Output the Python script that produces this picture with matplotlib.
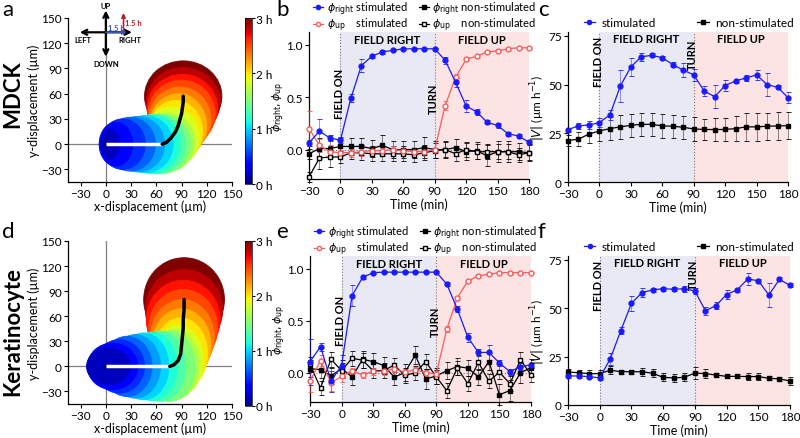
import numpy as np
import matplotlib
matplotlib.use("Agg")
import matplotlib.pyplot as plt
from matplotlib.patches import Ellipse
from matplotlib import cm
from matplotlib.colors import Normalize
from matplotlib.lines import Line2D

plt.rcParams["font.family"] = ["Lato", "DejaVu Sans"]
plt.rcParams["mathtext.fontset"] = "dejavusans"

# ---------------- data ----------------
time = [-30, -20, -10, 0, 10, 20, 30, 40, 50, 60, 70, 80, 90, 100, 110, 120, 130, 140, 150, 160, 170, 180]

# MDCK directedness (panel b)
b_right_stim = [0.065, 0.175, 0.11, 0.09, 0.49, 0.80, 0.89, 0.93, 0.945, 0.96, 0.96, 0.96, 0.96, 0.85, 0.64, 0.415, 0.36, 0.26, 0.23, 0.15, 0.13, 0.07]
b_right_stim_err = [0.03, 0.12, 0.03, 0.03, 0.04, 0.06, 0.02, 0.02, 0.01, 0.01, 0.01, 0.01, 0.01, 0.03, 0.04, 0.06, 0.03, 0.02, 0.02, 0.02, 0.02, 0.02]
b_up_stim = [0.20, 0.04, -0.02, -0.03, -0.03, -0.02, -0.01, -0.01, 0.0, -0.01, -0.02, -0.02, 0.0, 0.42, 0.69, 0.86, 0.89, 0.93, 0.94, 0.96, 0.97, 0.97]
b_up_stim_err = [0.17, 0.06, 0.06, 0.03, 0.04, 0.04, 0.03, 0.03, 0.03, 0.03, 0.03, 0.03, 0.02, 0.04, 0.03, 0.02, 0.02, 0.01, 0.01, 0.01, 0.01, 0.01]
b_right_non = [-0.04, 0.01, 0.01, 0.03, 0.03, 0.03, 0.01, 0.04, 0.0, 0.0, 0.0, 0.02, 0.0, 0.0, 0.02, -0.02, -0.01, -0.06, -0.02, -0.02, -0.02, -0.03]
b_right_non_err = [0.05, 0.10, 0.08, 0.08, 0.08, 0.08, 0.08, 0.10, 0.08, 0.08, 0.08, 0.10, 0.08, 0.08, 0.08, 0.08, 0.08, 0.10, 0.10, 0.10, 0.08, 0.08]
b_up_non = [-0.26, -0.08, -0.07, -0.07, -0.03, -0.03, -0.04, -0.04, -0.04, -0.04, -0.05, -0.03, -0.01, 0.0, -0.04, 0.0, -0.02, -0.02, -0.02, -0.02, -0.05, -0.03]
b_up_non_err = [0.05, 0.10, 0.10, 0.06, 0.06, 0.07, 0.07, 0.07, 0.07, 0.07, 0.07, 0.07, 0.07, 0.07, 0.07, 0.07, 0.07, 0.07, 0.07, 0.07, 0.07, 0.07]

# MDCK speed (panel c)
c_stim = [26.9, 28.8, 29.3, 30.5, 34.5, 49.3, 59.1, 64.3, 65.0, 63.8, 60.3, 57.4, 55.0, 46.7, 43.8, 49.5, 51.9, 53.4, 55.0, 50.0, 48.6, 43.3]
c_stim_err = [1, 1.5, 2, 2.5, 2.5, 8, 4.5, 2, 1, 1, 1.5, 3.5, 3, 2.5, 6, 3, 1, 1.5, 2.5, 6, 1, 3]
c_non = [21.3, 22.0, 24.6, 26.2, 27.4, 28.3, 29.1, 29.6, 29.6, 28.8, 28.6, 28.1, 27.2, 27.0, 26.9, 27.0, 27.4, 28.3, 28.3, 28.6, 28.8, 28.9]
c_non_err = [3, 3.5, 4.5, 5, 6, 6, 6, 6, 6, 6, 6, 6, 6, 5.5, 6, 6, 6.5, 7, 7, 7, 7, 7]

# Keratinocyte directedness (panel e)
e_right_stim = [0.107, 0.25, -0.08, 0.07, 0.74, 0.915, 0.96, 0.965, 0.965, 0.965, 0.965, 0.965, 0.965, 0.85, 0.61, 0.34, 0.195, 0.195, 0.095, 0.01, 0.06, 0.076]
e_right_stim_err = [0.22, 0.04, 0.10, 0.10, 0.10, 0.02, 0.01, 0.01, 0.01, 0.01, 0.01, 0.01, 0.01, 0.02, 0.03, 0.04, 0.03, 0.07, 0.03, 0.03, 0.03, 0.02]
e_up_stim = [-0.08, 0.117, -0.095, -0.035, 0.02, -0.02, 0.013, 0.013, 0.04, 0.006, 0.03, 0.0, -0.01, 0.42, 0.72, 0.88, 0.93, 0.945, 0.96, 0.96, 0.96, 0.96]
e_up_stim_err = [0.10, 0.05, 0.08, 0.05, 0.03, 0.03, 0.03, 0.03, 0.03, 0.03, 0.03, 0.03, 0.03, 0.03, 0.02, 0.01, 0.01, 0.01, 0.01, 0.01, 0.01, 0.01]
e_right_non = [0.04, 0.03, -0.03, 0.04, -0.04, 0.13, 0.107, 0.07, -0.04, 0.0, 0.17, -0.06, -0.03, 0.02, 0.06, 0.045, -0.04, 0.107, -0.21, -0.17, 0.0, 0.05]
e_right_non_err = [0.08, 0.08, 0.08, 0.08, 0.08, 0.08, 0.08, 0.08, 0.08, 0.08, 0.09, 0.10, 0.08, 0.08, 0.08, 0.08, 0.08, 0.08, 0.10, 0.10, 0.10, 0.08]
e_up_non = [0.08, -0.145, 0.13, 0.02, 0.14, 0.12, 0.02, 0.02, 0.075, -0.025, 0.0, 0.107, -0.04, -0.17, 0.045, -0.105, 0.10, -0.08, 0.006, -0.105, 0.125, -0.02]
e_up_non_err = [0.07, 0.07, 0.07, 0.07, 0.07, 0.07, 0.07, 0.07, 0.07, 0.07, 0.07, 0.07, 0.07, 0.07, 0.07, 0.07, 0.07, 0.07, 0.07, 0.07, 0.07, 0.07]

# Keratinocyte speed (panel f)
f_stim = [15.0, 15.0, 14.7, 14.0, 23.9, 38.5, 52.5, 58.1, 59.5, 60.1, 59.8, 60.1, 58.9, 48.7, 51.4, 57.1, 59.5, 65.1, 64.2, 56.9, 64.9, 61.8]
f_stim_err = [1, 1, 1, 1, 3, 2, 4, 2.5, 1, 1, 1, 1.5, 1.5, 2, 2, 2.5, 1, 3, 1, 6, 1, 1]
f_non = [17.0, 16.7, 16.2, 16.2, 18.0, 17.2, 17.2, 17.2, 16.4, 14.3, 14.0, 14.3, 16.5, 16.2, 15.5, 14.8, 14.8, 14.7, 14.7, 13.8, 13.5, 12.4]
f_non_err = [1.5, 1.5, 2, 2, 2, 1, 1, 2, 2, 2, 2, 2, 3, 2.5, 1, 1, 1, 2, 2, 1, 1, 2]

# trajectory clouds: time (min), cloud centre (= mean path) and spread
traj_t = [0, 10, 20, 30, 40, 50, 60, 70, 80, 90, 100, 110, 120, 130, 140, 150, 160, 170, 180]
mdck_x = [0, 5, 12, 20, 29, 38, 47, 55, 61, 67, 72, 78, 83, 86, 88, 90, 91, 92, 92]
mdck_y = [0, 0, 0, 0, 0, 0, 0, 0, 0, 0, 2, 8, 15, 22, 29, 36, 43, 50, 57]
mdck_rx = [3, 11, 20, 27, 30, 32, 33, 33, 34, 34, 34, 33, 32, 34, 37, 40, 42, 44, 46]
mdck_ry = [3, 18, 26, 30, 32, 33, 34, 35, 35, 35, 35, 36, 37, 38, 39, 40, 40, 41, 42]
kera_x = [0, 3, 8, 16, 25, 35, 45, 55, 65, 76, 81, 86, 89, 90, 91, 92, 92, 93, 93]
kera_y = [0, 0, 0, 0, 0, 0, 0, 0, 0, 0, 2, 7, 15, 25, 35, 46, 56, 68, 80]
kera_rx = [3, 26, 30, 30, 30, 30, 30, 30, 30, 30, 30, 30, 32, 35, 38, 41, 44, 46, 48]
kera_ry = [3, 22, 28, 32, 36, 38, 40, 41, 42, 42, 42, 42, 43, 44, 45, 46, 47, 48, 50]

BLUE = "#1a1aff"
RED = "#ff5a5a"
LAV = "#e9e9f5"
PINK = "#fde4e4"

fig = plt.figure(figsize=(8, 4.39), dpi=100)
W, H = 800.0, 439.0


def add_ax(l, t, r, b):
    return fig.add_axes([l / W, 1 - b / H, (r - l) / W, (b - t) / H])


def style(ax):
    ax.spines["top"].set_visible(False)
    ax.spines["right"].set_visible(False)
    ax.tick_params(labelsize=8.5, length=3, width=0.8, pad=1.5)
    for s in ["left", "bottom"]:
        ax.spines[s].set_linewidth(0.9)


def trajectory_panel(ax, cax, xs, ys, rxs, rys):
    norm = Normalize(0, 3)
    ax.axhline(0, color="#808080", lw=0.9, zorder=0)
    ax.axvline(0, color="#808080", lw=0.9, zorder=0)
    for i in reversed(range(len(traj_t))):
        col = cm.jet(norm(traj_t[i] / 60))
        ax.add_patch(Ellipse((xs[i], ys[i]), 2 * rxs[i], 2 * rys[i], facecolor=col,
                             edgecolor=col, lw=0.6, zorder=1))
    ax.plot(xs[:10], ys[:10], color="white", lw=2.5, solid_capstyle="butt", zorder=3)
    ax.plot(xs[9:], ys[9:], color="black", lw=2.5, solid_capstyle="round", zorder=3)
    ax.set_xlim(-45, 150)
    ax.set_ylim(-45, 150)
    ax.set_xticks(range(-30, 151, 30))
    ax.set_yticks(range(-30, 151, 30))
    ax.set_xlabel("x-displacement (µm)", fontsize=9, labelpad=0)
    ax.set_ylabel("y-displacement (µm)", fontsize=9, labelpad=1)
    style(ax)
    sm = cm.ScalarMappable(norm=norm, cmap="jet")
    cb = fig.colorbar(sm, cax=cax, ticks=[0, 1, 2, 3])
    cb.ax.set_yticklabels(["0 h", "1 h", "2 h", "3 h"])
    cb.ax.tick_params(labelsize=8.5, length=2, pad=1)
    cb.outline.set_linewidth(0.5)


def phases(ax, ytxt, ymid, dotted_zero):
    ax.axvspan(0, 90, color=LAV, lw=0, zorder=0)
    ax.axvspan(90, 180, color=PINK, lw=0, zorder=0)
    ax.axvline(0, color="#777777", lw=0.8, ls=":", zorder=1)
    ax.axvline(90, color="#777777", lw=0.8, ls=":", zorder=1)
    if dotted_zero:
        ax.axhline(0, color="#777777", lw=0.8, ls=":", zorder=1)
    ax.text(45, ytxt, "FIELD RIGHT", ha="center", va="center", fontsize=8, fontweight="bold")
    ax.text(135, ytxt, "FIELD UP", ha="center", va="center", fontsize=8, fontweight="bold")
    ax.text(-1, ymid[0], "FIELD ON", ha="center", va="center", rotation=90, fontsize=8, fontweight="bold")
    ax.text(89, ymid[1], "TURN", ha="center", va="center", rotation=90, fontsize=8, fontweight="bold")
    ax.set_xlim(-30, 180)
    ax.set_xticks(range(-30, 181, 30))
    ax.set_xlabel("Time (min)", fontsize=9, labelpad=1)
    style(ax)


def series(ax, y, err, color, marker, mfc, ms=3.5):
    ax.errorbar(time, y, yerr=err, color=color, marker=marker, mfc=mfc, mec=color,
                ms=ms, lw=0.9, elinewidth=0.6, capsize=1.8, capthick=0.6,
                ecolor=color, zorder=3, clip_on=False)


def phi_panel(ax, rs, rse, us, use, rn, rne, un, une, mids):
    phases(ax, 1.05, mids, True)
    series(ax, rn, rne, "black", "s", "black", 3.2)
    series(ax, un, une, "black", "s", "white", 3.2)
    series(ax, us, use, RED, "o", "white")
    series(ax, rs, rse, BLUE, "o", BLUE)
    for art in ax.containers:
        for eb in art[2]:
            eb.set_alpha(0.55)
    ax.set_ylim(-0.28, 1.12)
    ax.set_yticks([0, 0.5, 1.0])
    ax.set_yticklabels(["0.0", "0.5", "1.0"])
    ax.set_ylabel(r"$\phi_{\mathrm{right}}, \phi_{\mathrm{up}}$", fontsize=8)
    ax.yaxis.set_label_coords(-0.10, 0.5)
    handles = [
        Line2D([], [], color=BLUE, marker="o", ms=3, mfc=BLUE, lw=0.9),
        Line2D([], [], color=RED, marker="o", ms=3, mfc="white", lw=0.9),
        Line2D([], [], color="black", marker="s", ms=3, mfc="black", lw=0.9),
        Line2D([], [], color="black", marker="s", ms=3, mfc="white", lw=0.9),
    ]
    labels = [r"$\phi_{\mathrm{right}}$ stimulated", r"$\phi_{\mathrm{up}}$    stimulated",
              r"$\phi_{\mathrm{right}}$ non-stimulated", r"$\phi_{\mathrm{up}}$    non-stimulated"]
    ax.legend(handles, labels, ncol=2, loc="lower left", bbox_to_anchor=(0.02, 0.99),
              frameon=False, fontsize=8, handlelength=0.9, handletextpad=0.35,
              columnspacing=0.9, labelspacing=-0.1, borderpad=0.0, borderaxespad=0.0)


def speed_panel(ax, st, ste, nn, nne, mids):
    phases(ax, 73.5, mids, False)
    series(ax, nn, nne, "black", "s", "black", 3.2)
    series(ax, st, ste, BLUE, "o", BLUE)
    for art in ax.containers:
        for eb in art[2]:
            eb.set_alpha(0.55)
    ax.set_ylim(0, 77)
    ax.set_yticks([0, 25, 50, 75])
    ax.set_ylabel(r"$|V|$ (µm h$^{-1}$)", fontsize=8.5, labelpad=1)
    handles = [
        Line2D([], [], color=BLUE, marker="o", ms=3, mfc=BLUE, lw=0.9),
        Line2D([], [], color="black", marker="s", ms=3, mfc="black", lw=0.9),
    ]
    ax.legend(handles, ["stimulated", "non-stimulated"], ncol=2, loc="lower left",
              bbox_to_anchor=(0.06, 1.01), frameon=False, fontsize=8.5, handlelength=1.0,
              handletextpad=0.5, columnspacing=3.5, borderpad=0.1, borderaxespad=0.1)


# ---- panel a (MDCK trajectories) ----
ax_a = add_ax(68, 19, 232, 183)
cax_a = add_ax(245, 19, 252, 185)
trajectory_panel(ax_a, cax_a, mdck_x, mdck_y, mdck_rx, mdck_ry)

# compass inset
kw = dict(arrowstyle="->", lw=1.6, color="black", mutation_scale=9, shrinkA=0, shrinkB=0)
for tip in [(0, 159), (0, 104), (-31, 133), (31, 133)]:
    ax_a.annotate("", xy=tip, xytext=(0, 133), arrowprops=kw, annotation_clip=False, zorder=5)
ax_a.annotate("", xy=(25, 133), xytext=(0, 133), annotation_clip=False, zorder=6,
              arrowprops=dict(arrowstyle="-|>", lw=1.2, color="#3355cc", mutation_scale=6, shrinkA=0, shrinkB=0))
ax_a.annotate("", xy=(21, 156), xytext=(21, 133), annotation_clip=False, zorder=6,
              arrowprops=dict(arrowstyle="-|>", lw=1.2, color="#b8202a", mutation_scale=6, shrinkA=0, shrinkB=0))
ctext = dict(fontsize=5.5, fontweight="bold", ha="center", va="center", clip_on=False)
ax_a.text(0, 165, "UP", **ctext)
ax_a.text(0, 96, "DOWN", **ctext)
ax_a.text(-27, 124, "LEFT", **ctext)
ax_a.text(29, 124, "RIGHT", **ctext)
ax_a.text(13, 139, "1.5 h", color="#3355cc", fontsize=5.5, fontweight="bold", ha="center", va="center", zorder=7)
ax_a.text(33, 145, "1.5 h", color="#b8202a", fontsize=5.5, fontweight="bold", ha="center", va="center", clip_on=False)

# ---- panel d (keratinocyte trajectories) ----
ax_d = add_ax(68, 242, 232, 405)
cax_d = add_ax(245, 242, 252, 407)
trajectory_panel(ax_d, cax_d, kera_x, kera_y, kera_rx, kera_ry)

# ---- panels b, e ----
ax_b = add_ax(309, 33, 529, 180)
phi_panel(ax_b, b_right_stim, b_right_stim_err, b_up_stim, b_up_stim_err,
          b_right_non, b_right_non_err, b_up_non, b_up_non_err, (0.54, 0.49))
ax_e = add_ax(310, 257, 531, 403)
phi_panel(ax_e, e_right_stim, e_right_stim_err, e_up_stim, e_up_stim_err,
          e_right_non, e_right_non_err, e_up_non, e_up_non_err, (0.51, 0.50))

# ---- panels c, f ----
ax_c = add_ax(568, 33, 788, 183)
speed_panel(ax_c, c_stim, c_stim_err, c_non, c_non_err, (62, 66))
ax_f = add_ax(568, 257, 790, 406)
speed_panel(ax_f, f_stim, f_stim_err, f_non, f_non_err, (62, 68))

# row labels and panel letters
fig.text(13 / W, 1 - 94 / H, "MDCK", rotation=90, fontsize=16, fontweight="bold", ha="center", va="center")
fig.text(13 / W, 1 - 331 / H, "Keratinocyte", rotation=90, fontsize=16, fontweight="bold", ha="center", va="center")
for letter, (x, y) in {"a": (2, 0), "b": (276, 0), "c": (538, 0),
                       "d": (2, 222), "e": (276, 222), "f": (538, 222)}.items():
    fig.text(x / W, 1 - y / H, letter, fontsize=16, ha="left", va="top")

fig.savefig("out.png", dpi=100)
